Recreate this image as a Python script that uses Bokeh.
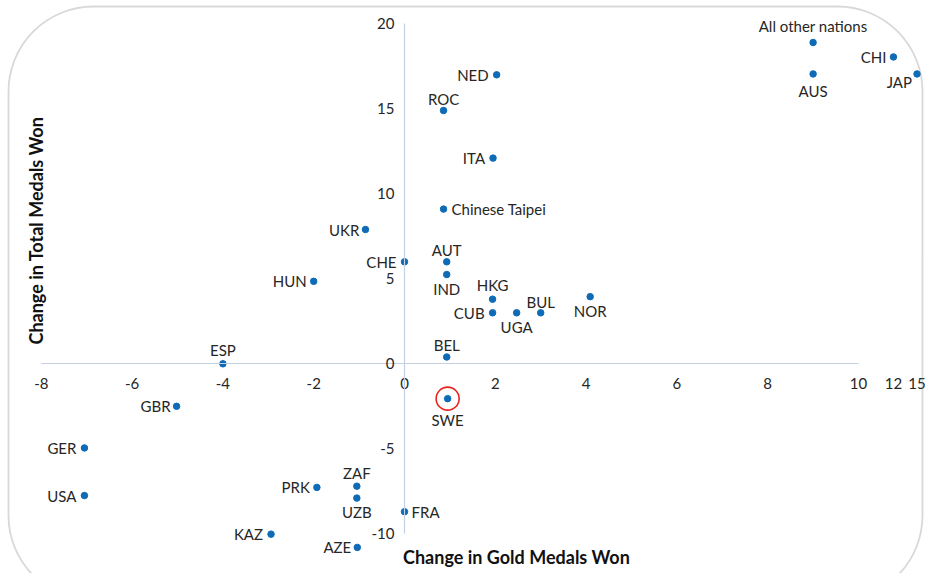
import math
from bokeh.plotting import figure
from bokeh.models import (ColumnDataSource, LinearAxis, FixedTicker, Range1d,
                          Label, BoxAnnotation)
from bokeh.core.properties import value, field
from bokeh.embed import file_html
from bokeh.resources import INLINE

# ---------------- data ----------------
countries = ["All other nations", "CHI", "JAP", "AUS", "NED", "ROC", "ITA",
             "Chinese Taipei", "UKR", "AUT", "CHE", "IND", "HUN", "HKG", "NOR",
             "CUB", "UGA", "BUL", "BEL", "ESP", "SWE", "GBR", "GER", "USA",
             "PRK", "ZAF", "UZB", "FRA", "KAZ", "AZE"]
gold_change = [9, 12, 15, 9, 2.03, 0.86, 1.95,
               0.86, -0.86, 0.93, 0, 0.93, -2.0, 1.94, 4.09,
               1.94, 2.47, 3.0, 0.93, -4.0, 0.95, -5.02, -7.05, -7.05,
               -1.93, -1.05, -1.05, 0, -2.94, -1.04]
total_change = [18.9, 18.05, 17.05, 17.05, 17.0, 14.9, 12.1,
                9.1, 7.9, 6.0, 6.0, 5.25, 4.85, 3.8, 3.95,
                3.0, 3.0, 3.0, 0.4, 0.0, -2.05, -2.5, -4.95, -7.75,
                -7.27, -7.2, -7.9, -8.7, -10.02, -10.8]
x_ticks = [-8, -6, -4, -2, 0, 2, 4, 6, 8, 10]
x_break_ticks = [12, 15]
y_ticks = [-10, -5, 0, 5, 10, 15, 20]
highlight = "SWE"
x_title = "Change in Gold Medals Won"
y_title = "Change in Total Medals Won"

# ---------------- layout / style ----------------
W, H = 928, 573
UX, UY = 45.4, 17.0          # px per unit
X0_PX, Y0_PX = 404.0, 363.3  # position of origin inside the canvas
x_start, x_end = -X0_PX / UX, (W - X0_PX) / UX
y_end, y_start = Y0_PX / UY, -(H - Y0_PX) / UY

FONT = "Lato"
BLUE = "#0F6BB5"
TXT = "#262626"
AXIS = "#C3D0E2"


def axis_pos(v):
    """Compressed (broken) x axis beyond 10."""
    if v <= 10:
        return v
    if v <= 12:
        return 10 + (v - 10) * 0.385
    return 10 + 2 * 0.385 + (v - 12) * 0.173


def sx(px):
    return (px - X0_PX) / UX


def sy(py):
    return (Y0_PX - py) / UY


L, R, A, B = (-7, 0, "right"), (7, 0, "left"), (0, -13, "center"), (0, 14, "center")
placement = {
    "All other nations": (0, -17, "center"), "CHI": (-7, 0, "right"),
    "JAP": (-5, 8, "right"), "AUS": (0, 17, "center"), "NED": (-8, 0, "right"),
    "ROC": (0, -12, "center"), "ITA": (-8, 0, "right"), "Chinese Taipei": (8, 0, "left"),
    "UKR": (-6, 0, "right"), "AUT": (0, -12, "center"), "CHE": (-8, 0, "right"),
    "IND": B, "HUN": L, "HKG": (0, -14, "center"), "NOR": B, "CUB": (-8, 0, "right"),
    "UGA": B, "BUL": (0, -11, "center"), "BEL": (0, -12, "center"),
    "ESP": (0, -14, "center"), "SWE": (0, 21, "center"), "GBR": (-6, 0, "right"),
    "GER": (-8, 0, "right"), "USA": (-8, 0, "right"), "PRK": (-7, 0, "right"),
    "ZAF": A, "UZB": B, "FRA": R, "KAZ": (-8, 0, "right"), "AZE": (-6, 0, "right"),
}

src = ColumnDataSource(dict(
    name=countries,
    px=[axis_pos(v) for v in gold_change],
    y=total_change,
    dx=[placement[c][0] for c in countries],
    dy=[placement[c][1] for c in countries],
    align=[placement[c][2] for c in countries],
))

p = figure(width=W, height=H, x_range=Range1d(x_start, x_end),
           y_range=Range1d(y_start, y_end), output_backend="svg",
           toolbar_location=None, x_axis_type=None, y_axis_type=None,
           min_border=0)
p.outline_line_color = None
p.background_fill_color = "white"
p.border_fill_color = "white"

common = dict(fixed_location=0, axis_line_color=AXIS, axis_line_width=1.2,
              major_tick_line_color=None, minor_tick_line_color=None,
              major_tick_out=0, major_tick_in=0,
              major_label_text_font=FONT, major_label_text_font_size="15px",
              major_label_text_color=TXT)

xa = LinearAxis(bounds=(-8, 10), ticker=FixedTicker(ticks=x_ticks),
                major_label_overrides={t: str(t) for t in x_ticks},
                major_label_standoff=14, **common)
p.add_layout(xa, "below")

bt = [axis_pos(v) for v in x_break_ticks]
xb = LinearAxis(bounds=(bt[0], bt[-1]), ticker=FixedTicker(ticks=bt),
                major_label_overrides={axis_pos(v): str(v) for v in x_break_ticks},
                major_label_standoff=14, **common)
xb.axis_line_color = None
p.add_layout(xb, "below")

ya = LinearAxis(bounds=(-10, 20), ticker=FixedTicker(ticks=y_ticks),
                major_label_overrides={t: str(t) for t in y_ticks},
                major_label_standoff=10, **common)
p.add_layout(ya, "left")

# rounded frame
p.add_layout(BoxAnnotation(left=sx(8), right=sx(922), top=sy(6), bottom=sy(600),
                           fill_alpha=0, line_color="#7F7F7F", line_width=1.8,
                           border_radius=85))

p.scatter(x="px", y="y", source=src, size=6.5, color=BLUE)

hi = countries.index(highlight)
p.scatter(x=[axis_pos(gold_change[hi])], y=[total_change[hi]], size=23,
          fill_color=None, line_color="#E8231E", line_width=1.6)

p.text(x="px", y="y", text="name", source=src, x_offset="dx", y_offset="dy",
       text_align=field("align"), text_baseline="middle",
       text_font=value(FONT), text_font_size="15px", text_color=TXT)

p.add_layout(Label(x=sx(516), y=sy(556),
                   text=x_title, text_align="center", text_baseline="middle",
                   text_font=FONT, text_font_size="18px", text_font_style="bold",
                   text_color="#111111"))
p.add_layout(Label(x=sx(35), y=sy(230),
                   text=y_title, text_align="center", text_baseline="middle",
                   angle=math.pi / 2,
                   text_font=FONT, text_font_size="18px", text_font_style="bold",
                   text_color="#111111"))

open("out.html", "w").write(file_html(p, INLINE))
